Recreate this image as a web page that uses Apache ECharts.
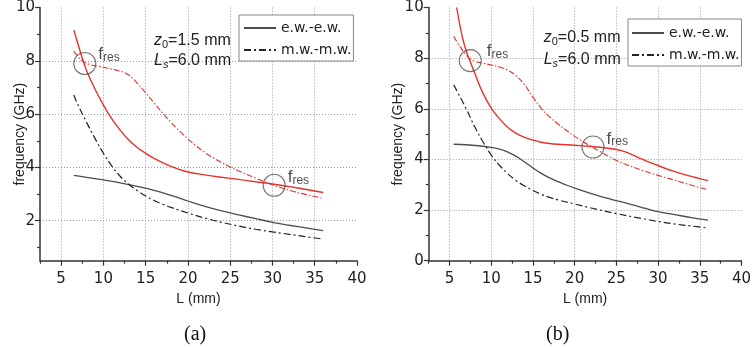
<!DOCTYPE html>
<html><head><meta charset="utf-8">
<script src="https://cdn.jsdelivr.net/npm/echarts@6/dist/echarts.min.js"></script>
<style>html,body{margin:0;padding:0;background:#fff}#c{width:754px;height:347px}</style>
</head><body><div id="c"></div><script>
// ---------- tick values ----------
const xTicksMajor = [5, 10, 15, 20, 25, 30, 35, 40];
const xTicksMinor = [2.5, 7.5, 12.5, 17.5, 22.5, 27.5, 32.5, 37.5];
const yTicksMajorA = [2, 4, 6, 8, 10];
const yTicksMajorB = [0, 2, 4, 6, 8, 10];
const yTicksMinor = [1, 3, 5, 7, 9];

// ---------- (a) z0 = 1.5 mm ----------
const aEwX = [6.5, 8, 10, 12, 14, 16, 18, 20, 22, 24, 26, 28, 30, 32, 34, 36];
const aEwY = [3.70, 3.63, 3.53, 3.42, 3.29, 3.14, 2.95, 2.74, 2.54, 2.37, 2.22, 2.08, 1.94, 1.83, 1.73, 1.63];
const aMwX = [6.5, 7, 8, 9, 10, 11, 12, 13, 14, 15, 16, 17, 18, 20, 22, 24, 26, 28, 30, 32, 34, 36];
const aMwY = [6.72, 6.34, 5.70, 5.09, 4.53, 4.05, 3.66, 3.37, 3.13, 2.93, 2.76, 2.62, 2.50, 2.29, 2.10, 1.94, 1.80, 1.68, 1.58, 1.49, 1.40, 1.31];
const aEwRedX = [6.5, 7, 7.6, 8, 9, 10, 11, 12, 13, 14, 15, 16, 17, 18, 19, 20, 22, 24, 26, 28, 30, 32, 34, 36];
const aEwRedY = [9.15, 8.62, 8.00, 7.64, 6.94, 6.34, 5.82, 5.39, 5.03, 4.75, 4.53, 4.34, 4.18, 4.04, 3.92, 3.83, 3.72, 3.63, 3.55, 3.46, 3.38, 3.28, 3.17, 3.06];
const aMwRedX = [6.5, 7, 7.6, 8.5, 9.5, 10.5, 11.5, 12.5, 13, 13.5, 14, 15, 16, 17, 18, 19, 20, 21, 22, 23, 24, 25, 26, 27, 28, 29, 30, 32, 34, 36];
const aMwRedY = [8.37, 8.15, 7.97, 7.85, 7.79, 7.72, 7.65, 7.56, 7.46, 7.33, 7.16, 6.80, 6.42, 6.04, 5.69, 5.37, 5.07, 4.80, 4.56, 4.36, 4.18, 4.02, 3.87, 3.73, 3.60, 3.47, 3.35, 3.14, 2.98, 2.84];
const aResX = [7.8, 30.2];
const aResY = [7.9, 3.33];

// ---------- (b) z0 = 0.5 mm ----------
const bEwX = [5.5, 7, 8.5, 9.5, 10.5, 11.3, 12, 13, 14, 15, 16, 17, 18, 19, 20, 21, 22, 23, 24, 25, 26, 27, 28, 29, 30, 32, 34, 36];
const bEwY = [4.60, 4.58, 4.54, 4.50, 4.45, 4.38, 4.29, 4.12, 3.90, 3.66, 3.45, 3.27, 3.12, 2.99, 2.87, 2.76, 2.65, 2.55, 2.46, 2.37, 2.29, 2.20, 2.11, 2.02, 1.94, 1.82, 1.70, 1.60];
const bMwX = [5.5, 6, 7, 8, 9, 10, 11, 12, 13, 14, 15, 16, 17, 18, 20, 22, 25, 28, 30, 32, 34, 36];
const bMwY = [6.95, 6.63, 6.00, 5.30, 4.70, 4.17, 3.76, 3.43, 3.16, 2.95, 2.77, 2.62, 2.50, 2.40, 2.24, 2.08, 1.86, 1.67, 1.55, 1.45, 1.37, 1.29];
const bEwRedX = [5.85, 6.5, 7, 7.6, 8, 9, 10, 11, 12, 13, 14, 15, 16, 17, 18, 20, 22, 23, 24, 25, 26, 27, 28, 29, 30, 31, 32, 33, 34, 35, 36];
const bEwRedY = [10.0, 8.88, 8.28, 7.76, 7.42, 6.62, 6.03, 5.60, 5.26, 5.03, 4.87, 4.76, 4.68, 4.63, 4.60, 4.56, 4.51, 4.48, 4.44, 4.39, 4.31, 4.17, 4.02, 3.88, 3.76, 3.63, 3.52, 3.42, 3.33, 3.24, 3.16];
const bMwRedX = [5.5, 6, 7, 7.5, 8, 9, 10, 11, 12, 13, 14, 15, 16, 17, 18, 19, 20, 21, 22, 23, 24, 25, 26, 28, 30, 32, 34, 36];
const bMwRedY = [8.86, 8.58, 8.12, 7.96, 7.88, 7.80, 7.73, 7.65, 7.52, 7.30, 6.95, 6.46, 6.02, 5.68, 5.40, 5.15, 4.91, 4.70, 4.51, 4.32, 4.13, 3.96, 3.82, 3.58, 3.37, 3.18, 2.98, 2.80];
const bResX = [7.48, 22.2];
const bResY = [7.9, 4.49];

const seriesNames = ['e.w.-e.w.', 'm.w.-m.w.'];

// ---------- styles ----------
const RED = '#e5332c', GRAY = '#4d4d4d', BLACK = '#222';
const AXIS = '#333';
const SANS = 'Liberation Sans', DV = 'DejaVu Sans';
const pairs = (xs, ys) => xs.map((x, i) => [x, ys[i]]);

function xAxes(gi) {
  return [{
    gridIndex: gi, type: 'value', min: 2.5, max: 40, position: 'bottom',
    axisLine: { onZero: false, lineStyle: { color: AXIS, width: 1.5 } },
    axisTick: { customValues: xTicksMajor, length: 5, lineStyle: { color: AXIS, width: 1.2 } },
    axisLabel: { customValues: xTicksMajor, margin: 11, color: '#222', fontFamily: DV, fontSize: 15 },
    splitLine: { show: true, showMinLine: true, showMaxLine: false, lineStyle: { color: '#999', type: [1, 2], width: 1 } },
    name: 'L (mm)', nameLocation: 'middle', nameGap: 31, nameMoveOverlap: false,
    nameTextStyle: { color: '#222', fontFamily: SANS, fontSize: 14 }
  }, {
    gridIndex: gi, type: 'value', min: 2.5, max: 40, position: 'bottom', offset: 0,
    axisLine: { show: false, onZero: false },
    axisTick: { customValues: xTicksMinor, length: 3, lineStyle: { color: AXIS, width: 1.2 } },
    axisLabel: { show: false }, splitLine: { show: false }
  }];
}
function yAxes(gi, min, major, gap) {
  return [{
    gridIndex: gi, type: 'value', min: min, max: 10, position: 'left',
    axisLine: { onZero: false, lineStyle: { color: AXIS, width: 1.5 } },
    axisTick: { customValues: major, length: 5, lineStyle: { color: AXIS, width: 1.2 } },
    axisLabel: { customValues: major, margin: 5, color: '#222', fontFamily: DV, fontSize: 15 },
    splitLine: { show: true, showMinLine: min !== 0, showMaxLine: false, lineStyle: { color: '#999', type: [1, 2], width: 1 } },
    name: 'frequency (GHz)', nameLocation: 'middle', nameGap: gap, nameMoveOverlap: false,
    nameTextStyle: { color: '#222', fontFamily: SANS, fontSize: 14 }
  }, {
    gridIndex: gi, type: 'value', min: min, max: 10, position: 'left', offset: 0,
    axisLine: { show: false, onZero: false },
    axisTick: { customValues: yTicksMinor, length: 3, lineStyle: { color: AXIS, width: 1.2 } },
    axisLabel: { show: false }, splitLine: { show: false }
  }];
}

function line(name, xi, yi, xs, ys, color, width, dash, z) {
  return {
    type: 'line', name: name, xAxisIndex: xi, yAxisIndex: yi, data: pairs(xs, ys),
    symbol: 'none', smooth: 0.4, z: z,
    lineStyle: { color: color, width: width, type: dash || 'solid' },
    itemStyle: { color: color, opacity: 0 }
  };
}
const DASH_BLACK = [7, 3, 2, 3];
const DASH_RED = [6, 2, 1.5, 2];

const richRes = {
  f: { fontFamily: SANS, fontSize: 17, lineHeight: 18, color: '#222' },
  s: { fontFamily: SANS, fontSize: 12, lineHeight: 9, verticalAlign: 'bottom', color: '#222' }
};
function res(xi, yi, xs, ys, offs) {
  return {
    type: 'scatter', xAxisIndex: xi, yAxisIndex: yi, z: 5, silent: true,
    data: xs.map((x, i) => ({
      value: [x, ys[i]],
      label: { show: true, position: 'right', distance: offs[i][0], offset: [0, offs[i][1]],
        formatter: '{f|f}{s|res}', rich: richRes }
    })),
    symbol: 'circle', symbolSize: 22,
    itemStyle: { color: 'rgba(0,0,0,0)', borderColor: '#555', borderWidth: 1.1 }
  };
}

const richAnn = {
  i: { fontFamily: SANS, fontSize: 16, fontStyle: 'italic', lineHeight: 18, color: '#222' },
  n: { fontFamily: SANS, fontSize: 16, lineHeight: 18, color: '#222' },
  s: { fontFamily: SANS, fontSize: 11, lineHeight: 9, verticalAlign: 'bottom', color: '#222' },
  si: { fontFamily: SANS, fontSize: 11, fontStyle: 'italic', lineHeight: 9, verticalAlign: 'bottom', color: '#222' }
};
function ann(x, y, text) {
  return { type: 'text', left: x, top: y, z: 10,
    style: { text: text, rich: richAnn, fill: '#222' } };
}

function legend(left, top, padding) {
  return {
    left: left, top: top, orient: 'vertical', padding: padding,
    itemWidth: 32, itemHeight: 12, itemGap: 8,
    borderColor: '#888', borderWidth: 1, backgroundColor: '#fff',
    itemStyle: { opacity: 0 },
    textStyle: { fontFamily: DV, fontSize: 14, color: '#222' },
    data: seriesNames, selectedMode: false
  };
}

const option = {
  animation: false,
  backgroundColor: '#fff',
  grid: [
    { left: 40, right: 397, top: 5.3, bottom: 86.3 },
    { left: 428.7, right: 7, top: 5.3, bottom: 86.3 }
  ],
  xAxis: [...xAxes(0), ...xAxes(1)],
  yAxis: [...yAxes(0, 0.5, yTicksMajorA, 13), ...yAxes(1, 0, yTicksMajorB, 24)],
  legend: [legend(239, 15, [6, 2, 4, 4]), legend(628, 19, [7, 2, 4, 3])],
  series: [
    line(seriesNames[0], 0, 0, aEwX, aEwY, GRAY, 1.3, null, 2),
    line(seriesNames[1], 0, 0, aMwX, aMwY, BLACK, 1.2, DASH_BLACK, 2),
    line('a-red-ew', 0, 0, aEwRedX, aEwRedY, RED, 1.4, null, 3),
    line('a-red-mw', 0, 0, aMwRedX, aMwRedY, RED, 1.1, DASH_RED, 3),
    line(seriesNames[0], 2, 2, bEwX, bEwY, GRAY, 1.3, null, 2),
    line(seriesNames[1], 2, 2, bMwX, bMwY, BLACK, 1.2, DASH_BLACK, 2),
    line('b-red-ew', 2, 2, bEwRedX, bEwRedY, RED, 1.4, null, 3),
    line('b-red-mw', 2, 2, bMwRedX, bMwRedY, RED, 1.1, DASH_RED, 3),
    res(0, 0, aResX, aResY, [[2, -9], [2, -8]]),
    res(2, 2, bResX, bResY, [[5, -9], [2, -8]])
  ],
  graphic: [
    ann(154, 33, '{i|z}{s|0}{n|=1.5 mm}'),
    ann(154, 53, '{i|L}{si|s}{n|=6.0 mm}'),
    ann(543.7, 30, '{i|z}{s|0}{n|=0.5 mm}'),
    ann(543.7, 52, '{i|L}{si|s}{n|=6.0 mm}'),
    { type: 'text', left: 184, top: 325, style: { text: '(a)', fontFamily: 'Liberation Serif', fontSize: 20, fill: '#111' } },
    { type: 'text', left: 546, top: 325, style: { text: '(b)', fontFamily: 'Liberation Serif', fontSize: 20, fill: '#111' } }
  ]
};
const chart = echarts.init(document.getElementById('c'), null, { renderer: 'canvas' });
chart.setOption(option);
</script></body></html>
